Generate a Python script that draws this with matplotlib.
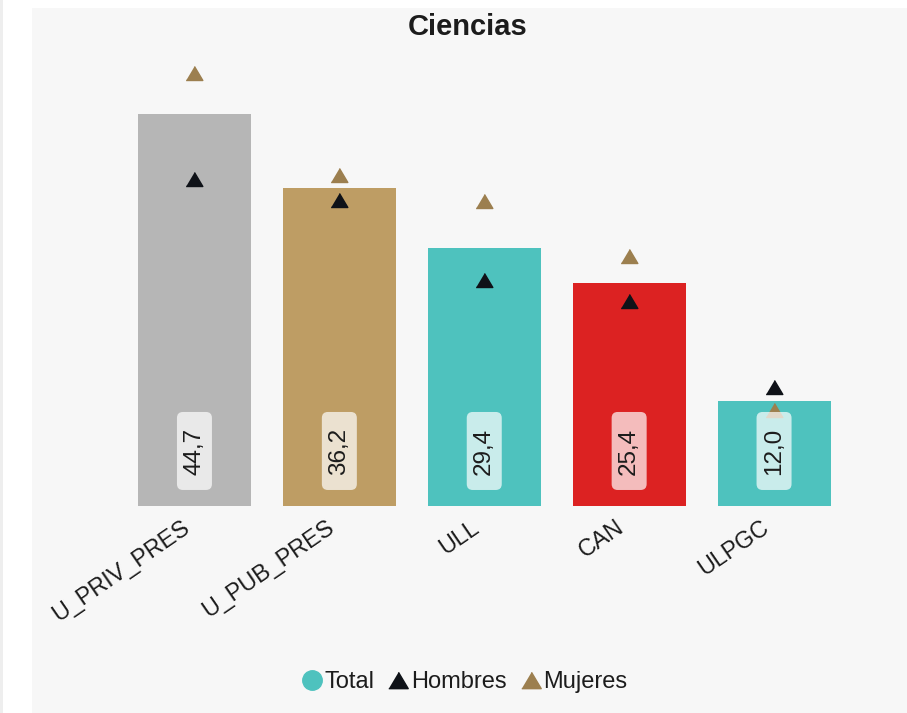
import matplotlib
matplotlib.use("Agg")
import matplotlib.pyplot as plt
from matplotlib.patches import Rectangle, FancyBboxPatch
from matplotlib.lines import Line2D
import matplotlib.transforms as mtransforms

plt.rcParams["font.family"] = ["Liberation Sans", "DejaVu Sans"]

# data
categories = ["U_PRIV_PRES", "U_PUB_PRES", "ULL", "CAN", "ULPGC"]
total = [44.7, 36.2, 29.4, 25.4, 12.0]
hombres = [37.25, 34.9, 25.7, 23.4, 13.6]
mujeres = [49.3, 37.7, 34.8, 28.5, 10.95]
bar_colors = ["#b6b6b6", "#be9d64", "#4ec2be", "#dc2222", "#4ec2be"]

BG = "#f7f7f7"
TEXT = "#1c1c1c"
C_HOM = "#0f1218"
C_MUJ = "#9c7f4f"
C_TOT = "#4ec2be"

W, H = 907, 713
fig = plt.figure(figsize=(W / 100, H / 100), dpi=100)
fig.patch.set_facecolor("white")
fig.patches.append(Rectangle((32 / W, 0), 1 - 32 / W, 1 - 8 / H,
                             transform=fig.transFigure, facecolor=BG,
                             edgecolor="none", zorder=-10))
fig.patches.append(Rectangle((0, 0), 3 / W, 1, transform=fig.transFigure,
                             facecolor="#eeeeee", edgecolor="none", zorder=-10))

# axes placed so bars land where the reference draws them
ax = fig.add_axes([122 / W, 1 - 506 / H, 724.5 / W, 466 / H])
ax.set_facecolor("none")
ax.set_xlim(-0.5, 4.5)
ax.set_ylim(0, 53.1)

x = list(range(len(categories)))
ax.bar(x, total, width=0.78, color=bar_colors, zorder=1)

tri = [(-1, -0.84), (1, -0.84), (0, 0.84)]
ax.plot(x, hombres, linestyle="none", marker=tri, markersize=12,
        color=C_HOM, zorder=2)
ax.plot(x, mujeres, linestyle="none", marker=tri, markersize=12,
        color=C_MUJ, zorder=2)

# value labels on rounded light boxes near the bar base
label_y = 6.27
bw, bh, r = 0.35, 0.78, 0.06  # box size in inches
for xi, v in zip(x, total):
    tr = fig.dpi_scale_trans + mtransforms.ScaledTranslation(xi, label_y, ax.transData)
    box = FancyBboxPatch((-bw / 2 + r, -bh / 2 + r), bw - 2 * r, bh - 2 * r,
                         boxstyle=f"round,pad={r}", transform=tr,
                         facecolor="white", alpha=0.7, edgecolor="none",
                         zorder=3)
    ax.add_patch(box)
    ax.text(xi, label_y, f"{v:.1f}".replace(".", ","), rotation=90,
            ha="center", va="center", fontsize=17.5, color=TEXT, zorder=4)

# category labels, rotated, ending just left of the bar centre
for xi, name in zip(x, categories):
    ax.annotate(name, xy=(xi, 0), xytext=(-10, -7), textcoords="offset points",
                rotation=34.5, ha="right", va="top", rotation_mode="anchor",
                fontsize=16.8, color=TEXT, annotation_clip=False)
ax.set_xticks([])
ax.set_yticks([])
for s in ax.spines.values():
    s.set_visible(False)

fig.text(468 / W, 1 - 27 / H, "Ciencias", ha="center", va="center",
         fontsize=21, fontweight="bold", color=TEXT)

handles = [
    Line2D([], [], linestyle="none", marker="o", markersize=14, color=C_TOT),
    Line2D([], [], linestyle="none", marker=tri, markersize=14, color=C_HOM),
    Line2D([], [], linestyle="none", marker=tri, markersize=14, color=C_MUJ),
]
fig.legend(handles, ["Total", "Hombres", "Mujeres"], loc="center",
           bbox_to_anchor=(465 / W, 1 - 682 / H), ncol=3, frameon=False,
           fontsize=17, handlelength=0.8, handletextpad=0.15,
           columnspacing=0.6, labelcolor=TEXT)

fig.savefig("out.png", dpi=100, facecolor=fig.get_facecolor())
